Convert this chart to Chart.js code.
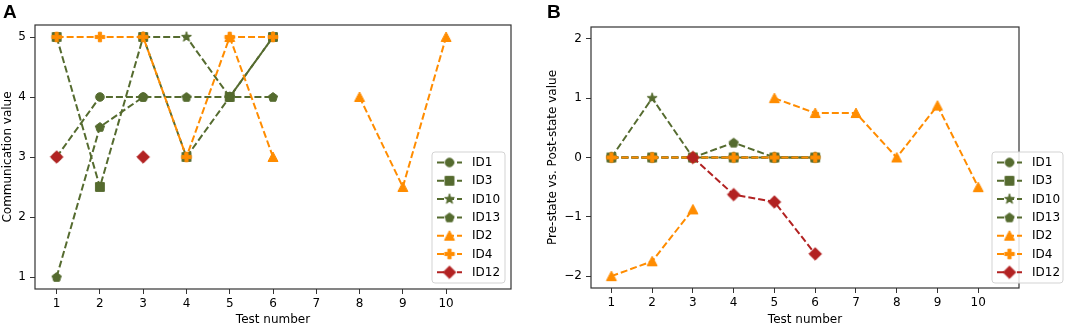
<!DOCTYPE html>
<html><head><meta charset="utf-8">
<script src="https://cdn.jsdelivr.net/npm/chart.js@4.4.1/dist/chart.umd.min.js"></script>
<style>
html,body{margin:0;padding:0;background:#fff;}
#wrap{position:relative;width:1065px;height:327px;overflow:hidden;background:#fff;}
canvas{position:absolute;top:0;}
</style></head><body>
<div id="wrap">
<canvas id="cA" width="530" height="327" style="left:0"></canvas>
<canvas id="cB" width="535" height="327" style="left:530px"></canvas>
</div>
<script>
// ---------- DATA ----------
const testNumbers = [1,2,3,4,5,6,7,8,9,10];
const seriesNames = ['ID1','ID3','ID10','ID13','ID2','ID4','ID12'];
const xTickValues = [1,2,3,4,5,6,7,8,9,10];
const yTickValuesA = [1,2,3,4,5];
const yTickValuesB = [-2,-1,0,1,2];
// Panel A: Communication value
const commID1  = [3,4,4,null,null,null];
const commID3  = [5,2.5,5,3,4,5];
const commID10 = [null,null,5,5,4,5];
const commID13 = [1,3.5,4,4,4,4];
const commID2  = [null,null,null,null,5,3,null,4,2.5,5];
const commID4  = [5,5,5,3,5,5];
const commID12 = [3,null,3];
// Panel B: Pre-state vs. Post-state value
const diffID1  = [0,0,0,0,0,0];
const diffID3  = [0,0,0,0,0,0];
const diffID10 = [0,1,0,0,0,0];
const diffID13 = [0,0,0,0.25,0,0];
const diffID2  = [-2,-1.75,-0.875,null,1,0.75,0.75,0,0.875,-0.5];
const diffID4  = [0,0,0,0,0,0];
const diffID12 = [null,null,0,-0.625,-0.75,-1.625];

// ---------- STYLE ----------
const GREEN = '#556B2F', ORANGE = '#FF8C00', RED = '#B22222';
const FONT = 'DejaVu Sans';
const seriesStyle = {
  ID1:  {color: GREEN,  shape: 'circle',   order: 6},
  ID3:  {color: GREEN,  shape: 'square',   order: 5},
  ID10: {color: GREEN,  shape: 'star',     order: 4},
  ID13: {color: GREEN,  shape: 'pentagon', order: 7},
  ID2:  {color: ORANGE, shape: 'triangle', order: 3},
  ID4:  {color: ORANGE, shape: 'plus',     order: 2},
  ID12: {color: RED,    shape: 'diamond',  order: 1}
};

function makeMarker(shape, color) {
  const S = 18;
  const c = document.createElement('canvas');
  c.width = S; c.height = S;
  const g = c.getContext('2d');
  g.fillStyle = color; g.strokeStyle = color; g.lineWidth = 1;
  g.translate(S/2, S/2);
  g.beginPath();
  const poly = (pts) => { pts.forEach((p,i)=> i ? g.lineTo(p[0],p[1]) : g.moveTo(p[0],p[1])); g.closePath(); };
  if (shape === 'circle') { g.arc(0,0,4.3,0,Math.PI*2); }
  else if (shape === 'square') { g.rect(-4.4,-4.4,8.8,8.8); }
  else if (shape === 'star') {
    const pts=[]; for (let i=0;i<10;i++){ const r = i%2 ? 2.1 : 5.3; const a = -Math.PI/2 + i*Math.PI/5; pts.push([r*Math.cos(a), r*Math.sin(a)]); } poly(pts);
  } else if (shape === 'pentagon') {
    const pts=[]; for (let i=0;i<5;i++){ const a = -Math.PI/2 + i*2*Math.PI/5; pts.push([4.8*Math.cos(a), 4.8*Math.sin(a)+0.4]); } poly(pts);
  } else if (shape === 'triangle') {
    poly([[0,-5],[5,4.5],[-5,4.5]]);
  } else if (shape === 'plus') {
    const e=4.8, w=1.6;
    poly([[-w,-e],[w,-e],[w,-w],[e,-w],[e,w],[w,w],[w,e],[-w,e],[-w,w],[-e,w],[-e,-w],[-w,-w]]);
  } else if (shape === 'diamond') {
    poly([[0,-6.3],[6.3,0],[0,6.3],[-6.3,0]]);
  }
  g.fill(); g.stroke();
  return c;
}
const markers = {};
seriesNames.forEach(n => markers[n] = makeMarker(seriesStyle[n].shape, seriesStyle[n].color));

const toXY = (vals) => vals.map((v,i) => ({x: testNumbers[i], y: v}));
const fmt = (v) => String(v).replace('-', '\u2212');

function buildDatasets(valuesByName) {
  return seriesNames.map(n => ({
    label: n,
    data: toXY(valuesByName[n]),
    borderColor: seriesStyle[n].color,
    backgroundColor: seriesStyle[n].color,
    borderWidth: 2,
    borderDash: [7,3],
    pointStyle: markers[n],
    pointRadius: 5,
    pointHoverRadius: 5,
    fill: false,
    tension: 0,
    spanGaps: false,
    clip: false,
    order: seriesStyle[n].order
  }));
}

function panelPlugin(letter, letterX, legendBox) {
  return {
    id: 'panel' + letter,
    afterDatasetsDraw(chart) {
      const {ctx, chartArea: a} = chart;
      ctx.save();
      ctx.strokeStyle = '#333'; ctx.lineWidth = 1.2;
      ctx.strokeRect(a.left, a.top, a.right - a.left, a.bottom - a.top);
      ctx.restore();
    },
    afterDraw(chart) {
      const ctx = chart.ctx;
      ctx.save();
      // panel letter
      ctx.fillStyle = '#000';
      ctx.font = 'bold 19px "Liberation Sans", Arial, sans-serif';
      ctx.textBaseline = 'alphabetic';
      ctx.fillText(letter, letterX, 18);
      // legend
      const b = legendBox;
      ctx.beginPath();
      if (ctx.roundRect) ctx.roundRect(b.x, b.y, b.w, b.h, 3); else ctx.rect(b.x, b.y, b.w, b.h);
      ctx.fillStyle = 'rgba(255,255,255,0.85)';
      ctx.fill();
      ctx.strokeStyle = '#d3d3d3'; ctx.lineWidth = 1;
      ctx.stroke();
      seriesNames.forEach((n, i) => {
        const y = b.y + 10.5 + i * 18.3;
        const x0 = b.x + 5, x1 = b.x + 30;
        ctx.strokeStyle = seriesStyle[n].color; ctx.lineWidth = 2;
        ctx.setLineDash([7,3]);
        ctx.beginPath(); ctx.moveTo(x0, y); ctx.lineTo(x1, y); ctx.stroke();
        ctx.setLineDash([]);
        const m = markers[n];
        ctx.drawImage(m, (x0+x1)/2 - m.width/2, y - m.height/2);
        ctx.fillStyle = '#000';
        ctx.font = '12px "' + FONT + '"';
        ctx.textBaseline = 'middle';
        ctx.fillText(n, b.x + 40, y + 0.5);
      });
      ctx.restore();
    }
  };
}

function makeChart(canvasId, valuesByName, cfg) {
  const tickFont = {family: FONT, size: 12};
  return new Chart(document.getElementById(canvasId), {
    type: 'line',
    data: {datasets: buildDatasets(valuesByName)},
    options: {
      responsive: false,
      animation: false,
      events: [],
      layout: {padding: cfg.padding},
      plugins: {legend: {display: false}, tooltip: {enabled: false}},
      scales: {
        x: {
          type: 'linear', min: 0.5, max: cfg.xMax,
          afterBuildTicks: s => { s.ticks = xTickValues.map(v => ({value: v})); },
          afterFit: s => { s.height = cfg.xHeight; },
          ticks: {font: tickFont, color: '#000', padding: 3, maxRotation: 0, autoSkip: false, callback: fmt},
          grid: {display: true, drawOnChartArea: false, drawTicks: true, tickLength: 5, color: '#333', lineWidth: 1},
          border: {display: false},
          title: {display: true, text: 'Test number', font: tickFont, color: '#000', padding: {top: 0, bottom: 0}}
        },
        y: {
          type: 'linear', min: cfg.yMin, max: cfg.yMax,
          afterBuildTicks: s => { s.ticks = cfg.yTicks.map(v => ({value: v})); },
          afterFit: s => { s.width = cfg.yWidth; },
          ticks: {font: tickFont, color: '#000', padding: 4, autoSkip: false, callback: fmt},
          grid: {display: true, drawOnChartArea: false, drawTicks: true, tickLength: 5, color: '#333', lineWidth: 1},
          border: {display: false},
          title: {display: true, text: cfg.yTitle, font: tickFont, color: '#000', padding: {top: cfg.yTitlePad, bottom: 0}}
        }
      }
    },
    plugins: [panelPlugin(cfg.letter, cfg.letterX, cfg.legendBox)]
  });
}

makeChart('cA', {
  ID1: commID1, ID3: commID3, ID10: commID10, ID13: commID13, ID2: commID2, ID4: commID4, ID12: commID12
}, {
  padding: {left: 0, top: 25, right: 19, bottom: 0},
  xMax: 11.5, yMin: 0.8, yMax: 5.2, yTicks: yTickValuesA,
  xHeight: 38, yWidth: 35, yTitle: 'Communication value', yTitlePad: 1,
  letter: 'A', letterX: 3,
  legendBox: {x: 432, y: 152, w: 73, h: 131}
});

makeChart('cB', {
  ID1: diffID1, ID3: diffID3, ID10: diffID10, ID13: diffID13, ID2: diffID2, ID4: diffID4, ID12: diffID12
}, {
  padding: {left: 0, top: 27, right: 46, bottom: 0},
  xMax: 11.0, yMin: -2.2, yMax: 2.2, yTicks: yTickValuesB,
  xHeight: 39, yWidth: 61, yTitle: 'Pre-state vs. Post-state value', yTitlePad: 16,
  letter: 'B', letterX: 17,
  legendBox: {x: 462, y: 152, w: 71, h: 131}
});
</script>
</body></html>
